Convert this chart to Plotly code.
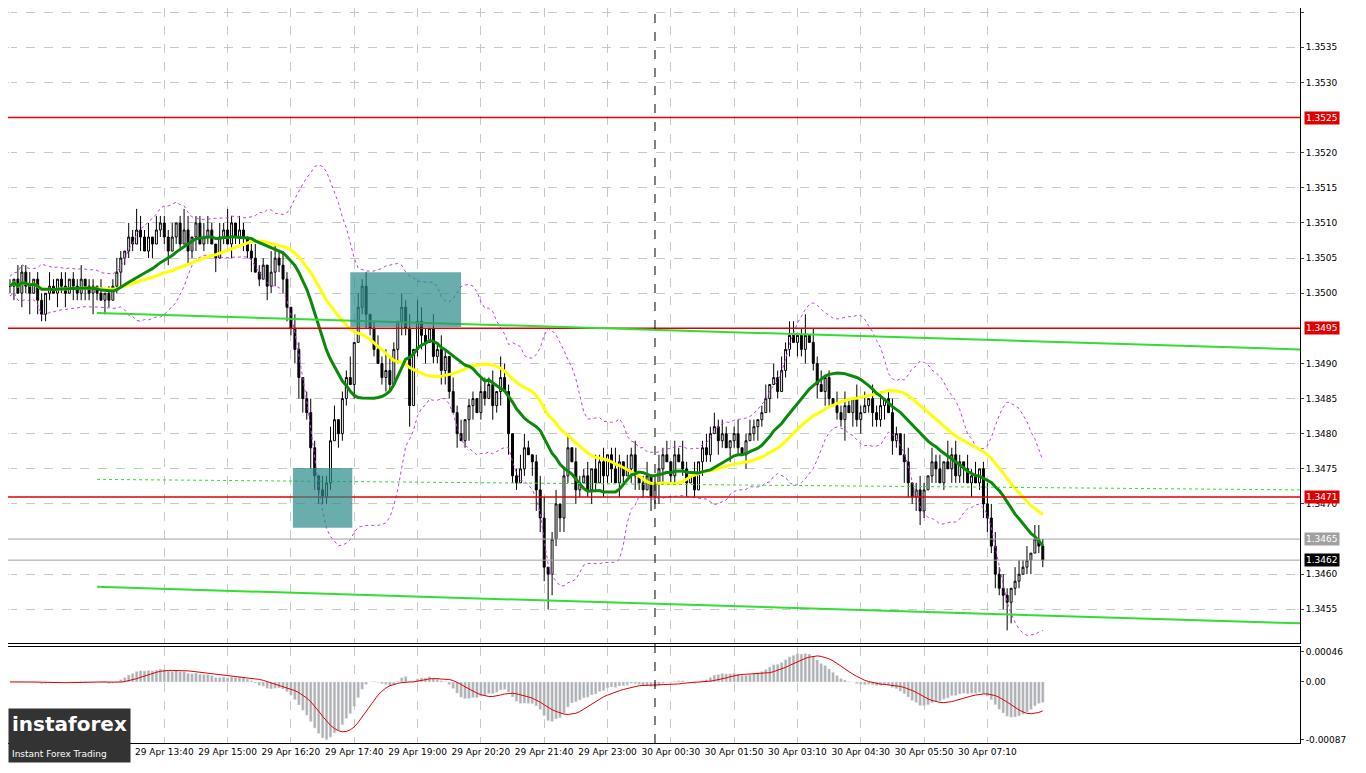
import pandas as pd
import numpy as np
import plotly.graph_objects as go

# closes in pips above 1.3400, 5-minute candles starting 29 Apr 10:25
closes = [101,102,100,103,101,100,102,99,97,100,
          101,100,102,101,100,102,101,100,102,101,
          100,101,100,99,100,99,101,103,105,106,
          108,107,109,108,106,108,107,109,110,108,
          106,108,110,107,109,106,108,110,107,108,
          109,107,105,108,109,107,110,108,109,108,
          106,105,103,102,104,101,103,105,104,102,
          98,95,92,88,85,83,78,74,72,71,
          73,79,82,80,85,88,87,93,98,101,
          97,95,92,90,88,89,87,92,96,98,
          95,84,92,96,94,93,95,91,92,89,
          91,86,83,80,79,82,84,85,83,86,
          85,87,84,86,88,86,80,74,73,75,
          78,77,76,72,68,61,60,65,70,68,
          74,78,76,72,73,74,72,75,73,76,
          74,77,75,73,76,74,75,77,74,73,
          72,74,71,73,75,77,76,74,77,76,
          75,73,74,72,76,78,77,80,81,79,
          80,78,79,80,78,77,79,80,81,82,
          83,85,87,88,86,89,92,94,93,94,
          92,94,93,90,87,86,88,85,84,83,
          82,84,83,85,82,83,84,85,83,82,
          84,85,83,79,80,77,76,73,71,72,
          69,72,74,76,75,73,76,75,77,74,
          76,75,73,74,73,75,70,68,64,60,
          58,57,56,58,59,60,61,62,63,65,
          64,62]
upper_wicks = ("1021120110" "2101201120" "1102011210" "2132120211" "1201320112"
               "2102131021" "0121103212" "1021012102" "1220113021" "2012132102"
               "1203210212" "1021201102" "2120321012" "2101230120" "1202112021"
               "2013102120" "1201212021" "3102012121" "2101201210" "1202121220"
               "1302120102" "1210212021" "2012103201" "2102120312" "1021201322"
               "1210221202" "21")
lower_wicks = ("1202130211" "1021202112" "1310210121" "1102012011" "2011021201"
               "1020102112" "1201021212" "2123213221" "1102110201" "2110121022"
               "1301230112" "2102013201" "1021203110" "1023225312" "2102101210"
               "3120210221" "1021320110" "1201021102" "1021102012" "1020101102"
               "1201202101" "1302120121" "1202103212" "2101201021" "1202012212"
               "1243110120" "11")

red_levels = [1.3525, 1.3495, 1.3471]
price_ticks = [1.3455, 1.3460, 1.3470, 1.3475, 1.3480, 1.3485, 1.3490, 1.3500, 1.3505,
               1.3510, 1.3515, 1.3520, 1.3530, 1.3535, 1.3540]
time_labels = ["29 Apr 13:40", "29 Apr 15:00", "29 Apr 16:20", "29 Apr 17:40", "29 Apr 19:00",
               "29 Apr 20:20", "29 Apr 21:40", "29 Apr 23:00", "30 Apr 00:30", "30 Apr 01:50",
               "30 Apr 03:10", "30 Apr 04:30", "30 Apr 05:50", "30 Apr 07:10"]
time_label_idx = [39, 55, 71, 87, 103, 119, 135, 151, 167, 183, 199, 215, 231, 247]

c = pd.Series(closes, dtype=float) / 10000 + 1.34
o = c.shift(1).fillna(c.iloc[0])
up = pd.Series([int(ch) for ch in upper_wicks]) / 10000
dn = pd.Series([int(ch) for ch in lower_wicks]) / 10000
h = np.maximum(o, c) + up
l = np.minimum(o, c) - dn
x = list(range(len(c)))

ma_fast = c.rolling(20, min_periods=1).mean()
ma_slow = c.rolling(36, min_periods=1).mean()
bb_mid = c.rolling(20, min_periods=1).mean()
bb_sd = c.rolling(20, min_periods=2).std().bfill()
macd = c.ewm(span=12).mean() - c.ewm(span=26).mean()
signal = macd.rolling(9, min_periods=1).mean()

fig = go.Figure()
fig.add_trace(go.Candlestick(x=x, open=o, high=h, low=l, close=c,
                             increasing=dict(line=dict(color="black", width=1), fillcolor="white"),
                             decreasing=dict(line=dict(color="black", width=1), fillcolor="black"),
                             whiskerwidth=0, showlegend=False))
for band in (bb_mid + 2 * bb_sd, bb_mid - 2 * bb_sd):
    fig.add_trace(go.Scatter(x=x, y=band, mode="lines", line=dict(color="#c040e0", width=1, dash="dot"),
                             showlegend=False))
fig.add_trace(go.Scatter(x=x, y=ma_slow, mode="lines", line=dict(color="#ffff00", width=3), showlegend=False))
fig.add_trace(go.Scatter(x=x, y=ma_fast, mode="lines", line=dict(color="#0a8a0a", width=3), showlegend=False))
fig.add_trace(go.Bar(x=x, y=macd, marker_color="#b0b0b0", yaxis="y2", xaxis="x2", showlegend=False))
fig.add_trace(go.Scatter(x=x, y=signal, mode="lines", line=dict(color="#e00000", width=1),
                         yaxis="y2", xaxis="x2", showlegend=False))

shapes = []
for lv in red_levels:
    shapes.append(dict(type="line", xref="x domain", x0=0, x1=1, yref="y", y0=lv, y1=lv,
                       line=dict(color="#e00000", width=1.5)))
for lv in (1.3465, 1.3462):
    shapes.append(dict(type="line", xref="x domain", x0=0, x1=1, yref="y", y0=lv, y1=lv,
                       line=dict(color="#a0a0a0", width=1)))
shapes += [
    dict(type="line", x0=22, x1=326, y0=1.34972, y1=1.34920, line=dict(color="#33dd33", width=2)),
    dict(type="line", x0=22, x1=326, y0=1.34582, y1=1.34530, line=dict(color="#33dd33", width=2)),
    dict(type="line", x0=22, x1=326, y0=1.34735, y1=1.34720, line=dict(color="#33dd33", width=1, dash="dot")),
    dict(type="rect", x0=86, x1=114, y0=1.34952, y1=1.35030, fillcolor="#2a8a8a", opacity=0.7, line_width=0),
    dict(type="rect", x0=71.5, x1=86.5, y0=1.34666, y1=1.34751, fillcolor="#2a8a8a", opacity=0.7, line_width=0),
    dict(type="line", x0=163, x1=163, yref="paper", y0=0, y1=1, line=dict(color="black", width=1, dash="dash")),
]
for s in shapes:
    s.setdefault("xref", "x")
    s.setdefault("yref", "y")

annotations = []
for lv, txt, col in [(1.3525, "1.3525", "#e00000"), (1.3495, "1.3495", "#e00000"),
                     (1.3471, "1.3471", "#e00000"), (1.3465, "1.3465", "#a0a0a0"), (1.3462, "1.3462", "black")]:
    annotations.append(dict(xref="paper", x=1.0, xanchor="left", xshift=4, yref="y", y=lv, text=txt,
                            showarrow=False, bgcolor=col, borderpad=1,
                            font=dict(color="white", size=9, family="DejaVu Sans")))
annotations.append(dict(xref="paper", yref="paper", x=0.0, y=0.0, xanchor="left", yanchor="bottom",
                        yshift=-20,
                        text="<b>instaforex</b><br><span style='font-size:9px'>Instant Forex Trading</span>",
                        showarrow=False, align="left", bgcolor="#333333", borderpad=3,
                        font=dict(color="white", size=20, family="DejaVu Sans")))

axfont = dict(size=9, family="DejaVu Sans", color="black")
fig.update_layout(
    width=1350, height=757, margin=dict(l=0, r=58, t=0, b=22, autoexpand=False),
    paper_bgcolor="white", plot_bgcolor="white", bargap=0.3,
    shapes=shapes, annotations=annotations,
    xaxis=dict(domain=[0, 1], range=[-0.5, 326], showticklabels=False, rangeslider=dict(visible=False),
               showgrid=True, gridcolor="#c8c8c8", griddash="dash", tickvals=time_label_idx,
               showline=True, linecolor="black", mirror=True, anchor="y"),
    yaxis=dict(domain=[0.136, 1], range=[1.34502, 1.35406], side="right", tickvals=price_ticks,
               tickformat=".4f", tickfont=axfont, showgrid=True, gridcolor="#c8c8c8", griddash="dash",
               showline=True, linecolor="black", mirror=True, ticks="outside", ticklen=3),
    xaxis2=dict(domain=[0, 1], range=[-0.5, 326], anchor="y2", tickvals=time_label_idx,
                ticktext=time_labels, tickfont=axfont, showgrid=True, gridcolor="#c8c8c8", griddash="dash",
                showline=True, linecolor="black", mirror=True, ticks=""),
    yaxis2=dict(domain=[0, 0.13], range=[-0.00092, 0.00052], side="right", anchor="x2",
                tickvals=[0.00046, 0.0, -0.00087], ticktext=["0.00046", "0.00", "-0.00087"],
                tickfont=axfont, showgrid=False, showline=True, linecolor="black", mirror=True,
                ticks="outside", ticklen=3),
)
fig.write_html("out.html")
